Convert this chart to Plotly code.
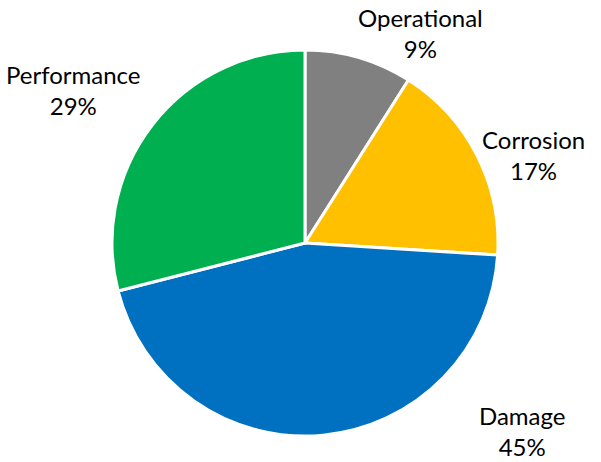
import plotly.graph_objects as go

# Share of findings by category
categories = ["Operational", "Corrosion", "Damage", "Performance"]
shares = [9, 17, 45, 29]
colors = ["#808080", "#FFC000", "#0070C0", "#00B050"]

# Label anchor points (paper coordinates) for each category's callout
label_xy = [(0.700, 0.929), (0.887, 0.665), (0.870, 0.067), (0.123, 0.805)]

W, H = 601, 462

fig = go.Figure(
    go.Pie(
        labels=categories,
        values=shares,
        sort=False,
        direction="clockwise",
        rotation=0,
        marker=dict(colors=colors, line=dict(color="white", width=3)),
        textinfo="none",
        hoverinfo="label+percent",
        showlegend=False,
        domain=dict(x=[112 / W, 498 / W], y=[26 / H, 412 / H]),
    )
)

total = sum(shares)
for name, val, (lx, ly) in zip(categories, shares, label_xy):
    fig.add_annotation(
        x=lx, y=ly, xref="paper", yref="paper",
        text=f"{name}<br>{round(100 * val / total)}%",
        showarrow=False,
        xanchor="center", yanchor="middle",
        font=dict(family="Lato", size=24, color="black"),
    )

fig.update_layout(
    width=W, height=H,
    margin=dict(l=0, r=0, t=0, b=0),
    paper_bgcolor="white",
    plot_bgcolor="white",
)

fig.write_html("out.html")
